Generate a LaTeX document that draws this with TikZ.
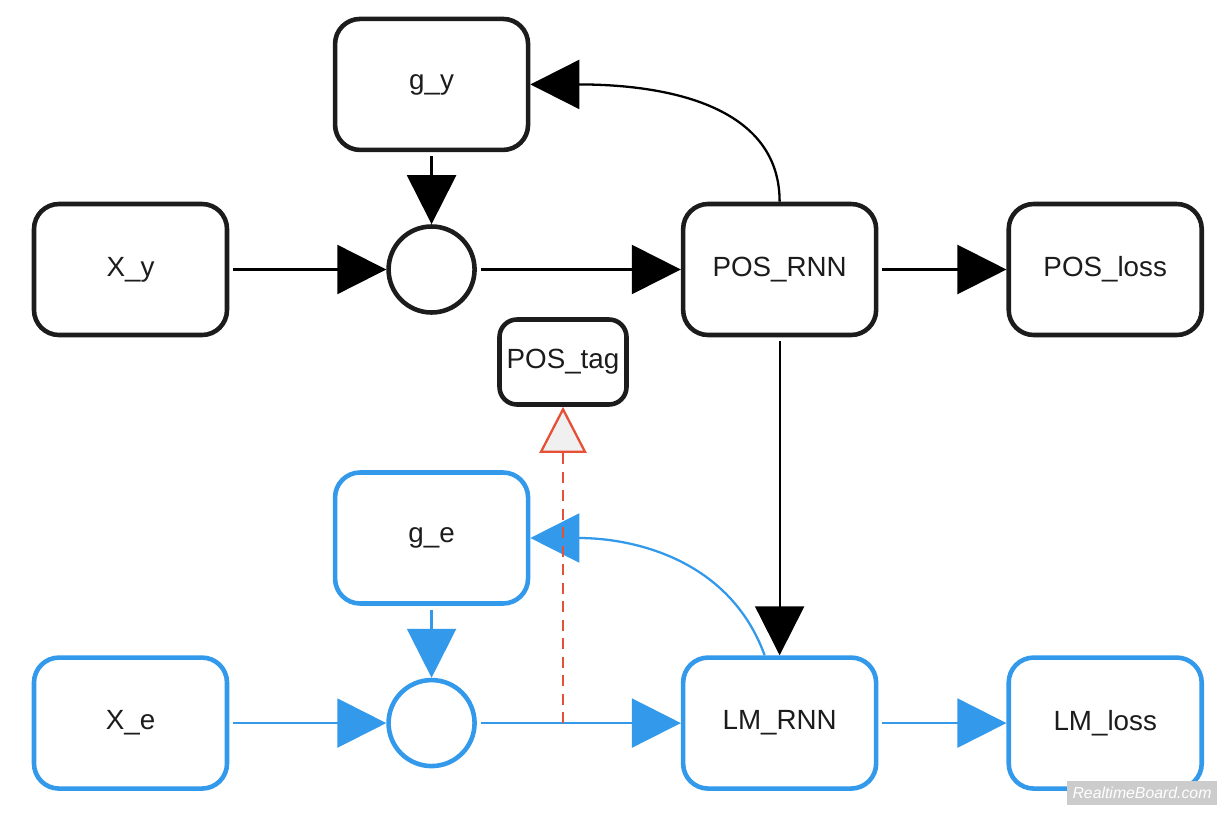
\documentclass[tikz,border=0pt]{standalone}
\usepackage{fontspec}
\setmainfont{Liberation Sans}
\usetikzlibrary{arrows.meta, positioning}
\definecolor{nodeblack}{RGB}{28,28,28}
\definecolor{lmblue}{RGB}{51,153,235}
\definecolor{tagred}{RGB}{230,80,55}
\definecolor{markgray}{RGB}{204,204,204}

\begin{document}
\begin{tikzpicture}[
    every node/.style={font=\fontsize{15.8}{18}\selectfont, text=nodeblack},
    block/.style={rectangle, draw=nodeblack, line width=2.6pt, rounded corners=0.5cm,
                  fill=white, align=center, minimum width=3.86cm, minimum height=2.62cm},
    blueblock/.style={block, draw=lmblue},
    junction/.style={circle, draw=nodeblack, line width=2.6pt, fill=white,
                     minimum size=1.72cm, inner sep=0pt},
    bluejunction/.style={junction, draw=lmblue},
    tag/.style={block, minimum width=2.54cm, minimum height=1.7cm,
                rounded corners=0.35cm, inner sep=1pt},
    arrow/.style={-{Triangle[length=0.98cm, width=0.98cm]}, black, line width=1.3pt,
                  shorten <=0.08cm},
    bluearrow/.style={arrow, lmblue},
    tagarrow/.style={-{Triangle[length=0.92cm, width=0.94cm, fill=black!6]}, tagred,
                     line width=1.3pt, dash pattern=on 0.22cm off 0.15cm}
]
    \useasboundingbox (0,0) rectangle (24.54,-16.28);
    % POS part
    \node[block] (xy) at (2.61,-5.39) {X\_y};
    \node[junction, right=3.14cm of xy] (cy) {};
    \node[block, right=4.08cm of cy] (posrnn) {POS\_RNN};
    \node[block, right=2.56cm of posrnn] (posloss) {POS\_loss};
    \node[block, above=1.44cm of cy] (gy) {g\_y};
    \node[tag] (postag) at (11.26,-7.24) {POS\_tag};
    % LM part
    \node[blueblock, below=6.36cm of xy] (xe) {X\_e};
    \node[bluejunction, right=3.14cm of xe] (ce) {};
    \node[blueblock, right=4.08cm of ce] (lmrnn) {LM\_RNN};
    \node[blueblock, right=2.56cm of lmrnn] (lmloss) {LM\_loss};
    \node[blueblock, above=1.44cm of ce] (ge) {g\_e};
    \coordinate (tap) at (postag |- ce);

    \draw[arrow] (xy) -- (cy);
    \draw[arrow] (gy) -- (cy);
    \draw[arrow] (cy) -- (posrnn);
    \draw[arrow] (posrnn) -- (posloss);
    \draw[arrow, shorten <=0pt] (posrnn) to[out=90, in=0] (gy);

    \draw[bluearrow] (xe) -- (ce);
    \draw[bluearrow] (ge) -- (ce);
    \draw[bluearrow] (ce) -- (lmrnn);
    \draw[bluearrow] (lmrnn) -- (lmloss);
    \draw[bluearrow, shorten <=0pt] ([xshift=-0.3cm]lmrnn.north) to[out=110, in=0] (ge.east);
    \draw[tagarrow] (tap) -- (postag);
    \draw[arrow] (posrnn) -- (lmrnn);

    \node[fill=markgray, text=white, font=\fontsize{9}{10}\selectfont\itshape,
          minimum width=3cm, minimum height=0.48cm, inner sep=0pt] (mark)
          at (22.84,-15.86) {RealtimeBoard.com};
\end{tikzpicture}
\end{document}
